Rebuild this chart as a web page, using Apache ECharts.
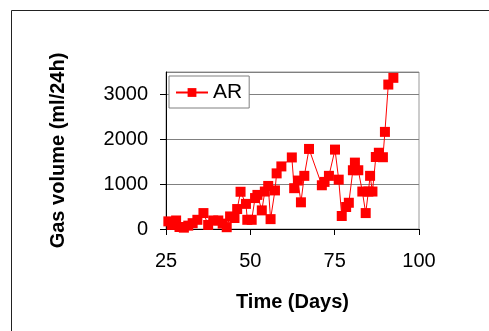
<!DOCTYPE html>
<html>
<head>
<meta charset="utf-8">
<script src="https://cdn.jsdelivr.net/npm/echarts@6/dist/echarts.min.js"></script>
<style>
  html, body { margin: 0; padding: 0; background: #fff; }
  #chart { width: 489px; height: 331px; }
</style>
</head>
<body>
<div id="chart"></div>
<script>
// values
const days = [
  25.7, 26.7, 28.0, 29.0, 30.3, 31.6, 32.9, 34.3, 36.1, 37.5,
  39.0, 40.5, 41.8, 43.0, 44.0, 45.3, 46.1, 47.1, 48.7, 49.1,
  50.4, 51.4, 52.1, 53.4, 54.3, 55.3, 56.0, 57.3, 57.8, 59.2,
  62.3, 63.0, 64.1, 65.0, 66.0, 67.4, 71.2, 72.0, 73.3, 75.1,
  76.2, 77.1, 78.4, 79.2, 80.4, 81.0, 82.0, 83.2, 84.2, 85.0,
  85.5, 86.2, 87.2, 88.1, 89.3, 89.9, 90.9, 92.4
];
const gasVolume = [
  170, 90, 190, 45, 30, 75, 130, 205, 355, 90,
  190, 190, 120, 40, 280, 245, 445, 830, 560, 205,
  205, 690, 760, 415, 835, 960, 220, 860, 1240, 1395,
  1595, 910, 1080, 595, 1185, 1785, 975, 1050, 1185, 1770,
  1100, 290, 490, 585, 1310, 1480, 1310, 835, 355, 835,
  1185, 835, 1605, 1700, 1600, 2165, 3220, 3370
];
const seriesName = "AR";
const xTicks = { min: 25, max: 100, step: 25 };
const yTicks = { min: 0, max: 3500, step: 1000 };

const chart = echarts.init(document.getElementById("chart"));

const font = "Liberation Sans, Arial, sans-serif";

chart.setOption({
  animation: false,
  backgroundColor: "#fff",
  textStyle: { fontFamily: font },
  graphic: [
    {
      // outer frame of the chart area
      type: "rect",
      shape: { x: 11.5, y: 10.5, width: 600, height: 400 },
      style: { fill: "none", stroke: "#222", lineWidth: 1 },
      silent: true,
    },
  ],
  grid: {
    left: 166,
    right: 70,
    top: 72,
    bottom: 102,
    show: true,
    borderColor: "#999",
    borderWidth: 1,
  },
  legend: {
    left: 169,
    top: 76,
    data: [seriesName],
    backgroundColor: "#fff",
    borderColor: "#808080",
    borderWidth: 1,
    borderRadius: 0,
    padding: [6, 7, 5, 6],
    itemWidth: 32,
    itemHeight: 11,
    itemGap: 0,
    textStyle: { fontSize: 21, color: "#000", fontFamily: font },
  },
  xAxis: {
    type: "value",
    min: xTicks.min,
    max: xTicks.max,
    interval: xTicks.step,
    name: "Time (Days)",
    nameLocation: "middle",
    nameGap: 63,
    nameTextStyle: { fontSize: 20, fontWeight: "bold", color: "#000", fontFamily: font },
    axisLine: { show: true, lineStyle: { color: "#000", width: 1 } },
    axisTick: { show: true, inside: false, length: 6, lineStyle: { color: "#000" } },
    axisLabel: { fontSize: 20, color: "#000", margin: 22, fontFamily: font },
    splitLine: { show: false },
  },
  yAxis: {
    type: "value",
    min: yTicks.min,
    max: yTicks.max,
    interval: yTicks.step,
    name: "Gas volume (ml/24h)",
    nameLocation: "middle",
    nameGap: 98,
    nameTextStyle: { fontSize: 20, fontWeight: "bold", color: "#000", fontFamily: font },
    axisLine: { show: true, lineStyle: { color: "#000", width: 1 } },
    axisTick: { show: true, inside: false, length: 6, lineStyle: { color: "#000" } },
    axisLabel: {
      fontSize: 20,
      color: "#000",
      margin: 18,
      fontFamily: font,
      showMaxLabel: false,
      formatter: (v) => String(v),
    },
    splitLine: { show: true, lineStyle: { color: "#808080", width: 1 } },
  },
  series: [
    {
      name: seriesName,
      type: "line",
      data: days.map((d, i) => [d, gasVolume[i]]),
      symbol: "rect",
      symbolSize: 10,
      itemStyle: { color: "#ff0000" },
      lineStyle: { color: "#ff0000", width: 1 },
    },
  ],
});
</script>
</body>
</html>
